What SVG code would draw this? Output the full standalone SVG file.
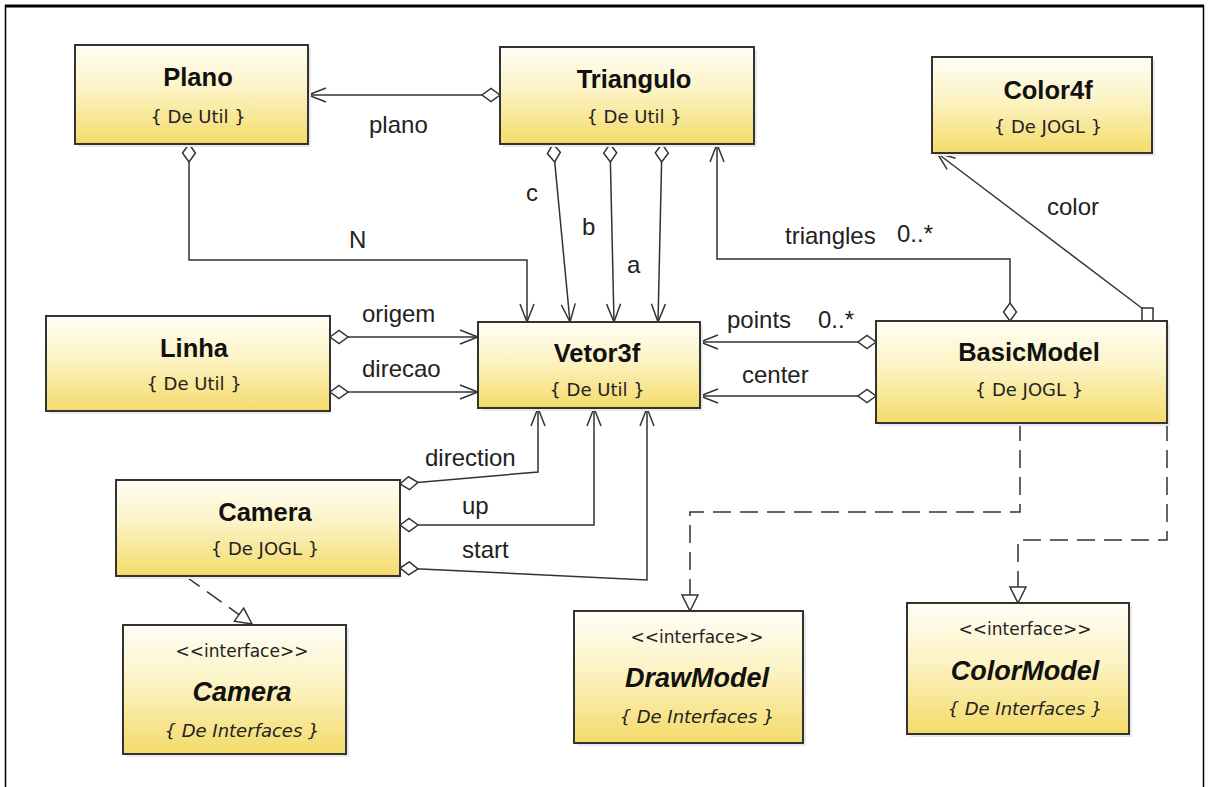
<svg xmlns="http://www.w3.org/2000/svg" width="1209" height="787" viewBox="0 0 1209 787">
  <defs>
    <linearGradient id="fillY" x1="0" y1="0" x2="0" y2="1">
      <stop offset="0" stop-color="#fffef6"/>
      <stop offset="0.45" stop-color="#fcf3c4"/>
      <stop offset="1" stop-color="#f4db6a"/>
    </linearGradient>
    <marker id="arrow" markerUnits="userSpaceOnUse" markerWidth="20" markerHeight="16" refX="18" refY="7" orient="auto" overflow="visible">
      <path d="M0,0 L18,7 L0,14" fill="none" stroke="#333" stroke-width="1.5"/>
    </marker>
    <marker id="diamond" markerUnits="userSpaceOnUse" markerWidth="20" markerHeight="15" refX="0" refY="6.5" orient="auto" overflow="visible">
      <path d="M0,6.5 L9,0 L18,6.5 L9,13 Z" fill="#fff" stroke="#333" stroke-width="1.5"/>
    </marker>
    <marker id="tri" markerUnits="userSpaceOnUse" markerWidth="18" markerHeight="18" refX="16" refY="8" orient="auto" overflow="visible">
      <path d="M0,0 L16,8 L0,16 Z" fill="#fff" stroke="#333" stroke-width="1.5"/>
    </marker>
  </defs>
  <style>
    .box { fill: url(#fillY); stroke: #333; stroke-width: 2; }
    .shadow { fill: #e9e9e9; }
    .t { font-family: "Liberation Sans", Arial, sans-serif; font-weight: bold; font-size: 25.5px; text-anchor: middle; fill: #111; }
    .ti { font-family: "Liberation Sans", Arial, sans-serif; font-weight: bold; font-style: italic; font-size: 27px; text-anchor: middle; fill: #111; }
    .s { font-family: "DejaVu Sans", Verdana, sans-serif; font-size: 18px; text-anchor: middle; fill: #222; }
    .si { font-family: "DejaVu Sans", Verdana, sans-serif; font-style: italic; font-size: 18px; text-anchor: middle; fill: #222; }
    .st { font-family: "DejaVu Sans", Verdana, sans-serif; font-size: 17px; text-anchor: middle; fill: #222; }
    .lbl { font-family: "Liberation Sans", Arial, sans-serif; font-size: 24px; fill: #222; }
    .c { fill: none; stroke: #333; stroke-width: 1.5; }
    .dash { stroke-dasharray: 18 9; }
    .frame { stroke: #000; fill: none; }
  </style>

  <rect x="0" y="0" width="1209" height="787" fill="#fff"/>
  <!-- outer frame -->
  <path class="frame" d="M5.5,787 V6 H1203.5 V787" stroke-width="1.5"/>
  <line x1="5" y1="6" x2="1204" y2="6" stroke="#000" stroke-width="3"/>

  <!-- connectors -->
  <g id="connectors">
    <path class="c" d="M500,95 H308" marker-start="url(#diamond)" marker-end="url(#arrow)"/>
    <path class="c" d="M189,144 V260 H527 V322" marker-start="url(#diamond)" marker-end="url(#arrow)"/>
    <path class="c" d="M553,144 L570,322" marker-start="url(#diamond)" marker-end="url(#arrow)"/>
    <path class="c" d="M610,144 L614,322" marker-start="url(#diamond)" marker-end="url(#arrow)"/>
    <path class="c" d="M662,144 L658,322" marker-start="url(#diamond)" marker-end="url(#arrow)"/>
    <path class="c" d="M1010,321 V259 H717 V144" marker-start="url(#diamond)" marker-end="url(#arrow)"/>
    <path class="c" d="M1143,309 L937,153" marker-end="url(#arrow)"/>
    <rect x="1142" y="308" width="11" height="13" fill="#fff" stroke="#333" stroke-width="1.5"/>
    <path class="c" d="M330,337 H478" marker-start="url(#diamond)" marker-end="url(#arrow)"/>
    <path class="c" d="M330,392 H478" marker-start="url(#diamond)" marker-end="url(#arrow)"/>
    <path class="c" d="M876,342 H700" marker-start="url(#diamond)" marker-end="url(#arrow)"/>
    <path class="c" d="M876,396 H700" marker-start="url(#diamond)" marker-end="url(#arrow)"/>
    <path class="c" d="M400,484 L538,472 V408" marker-start="url(#diamond)" marker-end="url(#arrow)"/>
    <path class="c" d="M400,525 H594 V408" marker-start="url(#diamond)" marker-end="url(#arrow)"/>
    <path class="c" d="M400,568 L647,580 V408" marker-start="url(#diamond)" marker-end="url(#arrow)"/>
    <path class="c dash" d="M185,576 L252,624" marker-end="url(#tri)"/>
    <path class="c dash" d="M1020,423 V512 H690 V611" marker-end="url(#tri)"/>
    <path class="c dash" d="M1167,423 V540 H1018 V603" marker-end="url(#tri)"/>

    <text class="lbl" x="369" y="133">plano</text>
    <text class="lbl" x="349" y="248">N</text>
    <text class="lbl" x="526" y="201">c</text>
    <text class="lbl" x="582" y="235">b</text>
    <text class="lbl" x="627" y="273">a</text>
    <text class="lbl" x="785" y="244">triangles</text>
    <text class="lbl" x="897" y="242">0..*</text>
    <text class="lbl" x="1047" y="215">color</text>
    <text class="lbl" x="362" y="322">origem</text>
    <text class="lbl" x="362" y="377">direcao</text>
    <text class="lbl" x="727" y="328">points</text>
    <text class="lbl" x="818" y="328">0..*</text>
    <text class="lbl" x="742" y="383">center</text>
    <text class="lbl" x="425" y="466">direction</text>
    <text class="lbl" x="462" y="514">up</text>
    <text class="lbl" x="462" y="558">start</text>
  </g>

  <!-- classes -->
  <g id="plano">
    <rect class="shadow" x="78" y="48" width="233" height="99"/>
    <rect class="box" x="75" y="45" width="233" height="99"/>
    <text class="t" x="198" y="86">Plano</text>
    <text class="s" x="198" y="123">{ De Util }</text>
  </g>
  <g id="triangulo">
    <rect class="shadow" x="503" y="50" width="254" height="97"/>
    <rect class="box" x="500" y="47" width="254" height="97"/>
    <text class="t" x="634" y="88">Triangulo</text>
    <text class="s" x="634" y="123">{ De Util }</text>
  </g>
  <g id="color4f">
    <rect class="shadow" x="935" y="60" width="220" height="96"/>
    <rect class="box" x="932" y="57" width="220" height="96"/>
    <text class="t" x="1048" y="99">Color4f</text>
    <text class="s" x="1048" y="133">{ De JOGL }</text>
  </g>
  <g id="linha">
    <rect class="shadow" x="49" y="319" width="281" height="95"/>
    <rect class="box" x="46" y="316" width="284" height="95"/>
    <text class="t" x="194" y="357">Linha</text>
    <text class="s" x="194" y="390">{ De Util }</text>
  </g>
  <g id="vetor3f">
    <rect class="shadow" x="481" y="325" width="222" height="86"/>
    <rect class="box" x="478" y="322" width="222" height="86"/>
    <text class="t" x="597" y="362">Vetor3f</text>
    <text class="s" x="597" y="396">{ De Util }</text>
  </g>
  <g id="basicmodel">
    <rect class="shadow" x="879" y="324" width="291" height="102"/>
    <rect class="box" x="876" y="321" width="291" height="102"/>
    <text class="t" x="1029" y="361">BasicModel</text>
    <text class="s" x="1029" y="396">{ De JOGL }</text>
  </g>
  <g id="camera">
    <rect class="shadow" x="119" y="483" width="281" height="96"/>
    <rect class="box" x="116" y="480" width="284" height="96"/>
    <text class="t" x="265" y="521">Camera</text>
    <text class="s" x="265" y="555">{ De JOGL }</text>
  </g>
  <g id="camera-interface">
    <rect class="shadow" x="126" y="628" width="223" height="129"/>
    <rect class="box" x="123" y="625" width="223" height="129"/>
    <text class="st" x="242" y="657">&lt;&lt;interface&gt;&gt;</text>
    <text class="ti" x="242" y="701">Camera</text>
    <text class="si" x="242" y="737">{ De Interfaces }</text>
  </g>
  <g id="drawmodel">
    <rect class="shadow" x="577" y="614" width="229" height="132"/>
    <rect class="box" x="574" y="611" width="229" height="132"/>
    <text class="st" x="697" y="643">&lt;&lt;interface&gt;&gt;</text>
    <text class="ti" x="697" y="687">DrawModel</text>
    <text class="si" x="697" y="723">{ De Interfaces }</text>
  </g>
  <g id="colormodel">
    <rect class="shadow" x="910" y="606" width="222" height="131"/>
    <rect class="box" x="907" y="603" width="222" height="131"/>
    <text class="st" x="1025" y="635">&lt;&lt;interface&gt;&gt;</text>
    <text class="ti" x="1025" y="680">ColorModel</text>
    <text class="si" x="1025" y="715">{ De Interfaces }</text>
  </g>
</svg>
